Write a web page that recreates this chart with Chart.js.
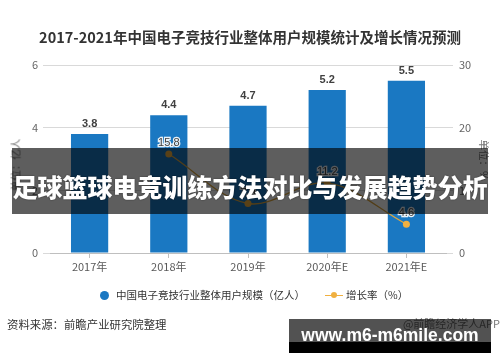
<!DOCTYPE html>
<html>
<head>
<meta charset="utf-8">
<script src="https://cdn.jsdelivr.net/npm/chart.js@4.4.0/dist/chart.umd.min.js"></script>
<style>
  html, body { margin:0; padding:0; background:#fff; }
  body { width:500px; height:362px; position:relative; overflow:hidden; font-family:'Noto Sans CJK SC','Liberation Sans',sans-serif; }
  #c { position:absolute; left:0; top:0; }
  .abs { position:absolute; white-space:nowrap; }
</style>
</head>
<body>
<canvas id="c" width="500" height="362"></canvas>

<div class="abs" id="title" style="left:0;width:500px;top:27px;text-align:center;font-size:14.5px;font-weight:700;color:#333;line-height:20px;">2017-2021年中国电子竞技行业整体用户规模统计及增长情况预测</div>

<div class="abs" style="left:15px;top:165px;font-size:10.5px;color:#777;transform:translate(-50%,-50%) rotate(-90deg);">单位：亿人</div>
<div class="abs" style="left:484px;top:160px;font-size:10.5px;color:#777;transform:translate(-50%,-50%) rotate(90deg);">单位：%</div>

<!-- legend -->
<div class="abs" style="left:99.5px;top:290.5px;width:9px;height:9px;border-radius:50%;background:#1a78c2;"></div>
<div class="abs" style="left:116px;top:287px;font-size:10.5px;color:#333;line-height:16px;">中国电子竞技行业整体用户规模（亿人）</div>
<div class="abs" style="left:325px;top:294.5px;width:18px;height:1.5px;background:#f0b040;"></div>
<div class="abs" style="left:331px;top:292px;width:6px;height:6px;border-radius:50%;background:#f0b040;"></div>
<div class="abs" style="left:346px;top:287px;font-size:10.5px;color:#333;line-height:16px;">增长率（%）</div>

<!-- source -->
<div class="abs" style="left:7px;top:316px;font-size:11.4px;color:#333;line-height:16px;">资料来源：前瞻产业研究院整理</div>
<div class="abs" style="right:0px;top:315px;font-size:11px;color:#777;line-height:16px;">@前瞻经济学人APP</div>

<!-- bottom url band -->
<div class="abs" style="left:289px;top:319px;width:202px;height:23px;background:rgba(0,0,0,0.68);"></div>
<div class="abs" style="left:289px;top:342px;width:202px;height:11px;background:#000;"></div>
<div class="abs" style="left:289px;width:202px;top:325px;text-align:center;font-family:'Liberation Sans',sans-serif;font-weight:700;font-size:17.5px;color:#fff;line-height:20px;">www.m6-m6mile.com</div>

<!-- big overlay band -->
<div class="abs" style="left:12px;top:148px;width:476px;height:66px;background:rgba(0,0,0,0.63);"></div>
<div class="abs" style="left:12px;width:476px;top:170px;text-align:center;font-size:25px;font-weight:900;color:#fff;line-height:32px;text-shadow:0 0 2px rgba(0,0,0,0.5);">足球篮球电竞训练方法对比与发展趋势分析</div>

<script>
const categories = ['2017年', '2018年', '2019年', '2020年E', '2021年E'];
const userScale = [3.8, 4.4, 4.7, 5.2, 5.5];
const growthRate = [null, 15.8, 7.9, 11.2, 4.6];
const leftAxis = { min: 0, max: 6, step: 2 };
const rightAxis = { min: 0, max: 30, step: 10 };
const seriesNames = ['中国电子竞技行业整体用户规模（亿人）', '增长率（%）'];

Chart.defaults.font.family = "'Noto Sans CJK SC','Liberation Sans',sans-serif";

const labelPlugin = {
  id: 'valueLabels',
  afterDatasetsDraw(chart) {
    const ctx = chart.ctx;
    ctx.save();
    ctx.textAlign = 'center';
    ctx.textBaseline = 'middle';
    const barMeta = chart.getDatasetMeta(0);
    ctx.font = "700 11px 'Liberation Sans','Noto Sans CJK SC',sans-serif";
    ctx.fillStyle = '#404040';
    barMeta.data.forEach((el, i) => {
      ctx.fillText(userScale[i].toFixed(1), el.x, el.y - 10);
    });
    const lineMeta = chart.getDatasetMeta(1);
    ctx.font = "11px 'Liberation Sans','Noto Sans CJK SC',sans-serif";
    lineMeta.data.forEach((el, i) => {
      const v = growthRate[i];
      if (v === null || v === undefined) return;
      ctx.lineWidth = 2.5;
      ctx.strokeStyle = 'rgba(255,255,255,0.9)';
      ctx.strokeText(v.toFixed(1), el.x, el.y - 11);
      ctx.fillStyle = '#404040';
      ctx.fillText(v.toFixed(1), el.x, el.y - 11);
    });
    ctx.restore();
  }
};

new Chart(document.getElementById('c'), {
  data: {
    labels: categories,
    datasets: [
      {
        type: 'bar',
        label: seriesNames[0],
        data: userScale,
        yAxisID: 'y',
        backgroundColor: '#1a78c2',
        barPercentage: 0.47,
        categoryPercentage: 1.0,
        order: 2
      },
      {
        type: 'line',
        label: seriesNames[1],
        data: growthRate,
        yAxisID: 'y1',
        borderColor: '#dca640',
        borderWidth: 1.3,
        tension: 0.35,
        pointRadius: 3.5,
        pointBackgroundColor: '#f0b040',
        pointBorderColor: '#f0b040',
        pointBorderWidth: 0,
        order: 1
      }
    ]
  },
  options: {
    responsive: false,
    animation: false,
    devicePixelRatio: 1,
    layout: { padding: { top: 65, left: 0, right: 0, bottom: 0 } },
    plugins: { legend: { display: false }, tooltip: { enabled: false } },
    scales: {
      x: {
        type: 'category',
        offset: true,
        grid: { offset: false, drawOnChartArea: false, drawTicks: true, tickLength: 5, color: '#bfbfbf' },
        border: { display: true, color: '#bfbfbf' },
        ticks: { color: '#595959', font: { size: 11 }, padding: 2 },
        afterFit(s) { s.height = 109; }
      },
      y: {
        position: 'left',
        min: leftAxis.min, max: leftAxis.max,
        ticks: { stepSize: leftAxis.step, color: '#666', font: { size: 11 }, padding: 5 },
        grid: { color: '#d9d9d9', tickLength: 7, drawTicks: true },
        border: { display: false },
        afterFit(s) { s.width = 50; }
      },
      y1: {
        position: 'right',
        min: rightAxis.min, max: rightAxis.max,
        ticks: { stepSize: rightAxis.step, color: '#666', font: { size: 11 }, padding: 6 },
        grid: { drawOnChartArea: false, color: '#d9d9d9', tickLength: 7, drawTicks: true },
        border: { display: false },
        afterFit(s) { s.width = 54; }
      }
    }
  },
  plugins: [labelPlugin]
});
</script>
</body>
</html>
